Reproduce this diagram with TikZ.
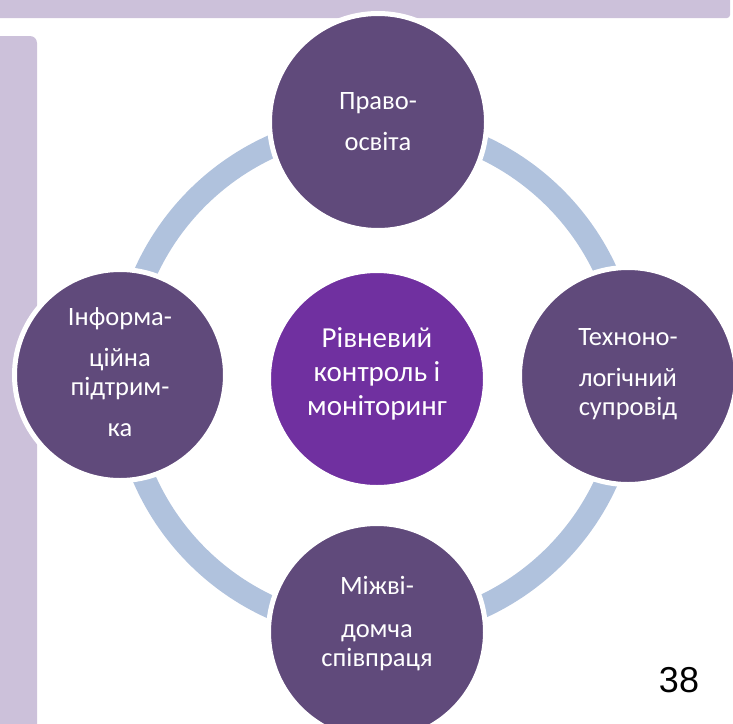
\documentclass[tikz,border=0pt]{standalone}
\usepackage{fontspec}
\setmainfont{Carlito}
\newfontfamily\numfont{Liberation Sans}
\definecolor{satc}{HTML}{604A7B}
\definecolor{midc}{HTML}{7030A0}
\definecolor{bandc}{HTML}{CCC1DA}
\definecolor{ringcol}{HTML}{B0C2DD}
\begin{document}
\begin{tikzpicture}[x=1pt,y=-1pt,
  sat/.style={circle, fill=satc, draw=white, line width=5pt, inner sep=0pt, minimum size=217pt},
  midcirc/.style={circle, fill=midc, draw=white, line width=5pt, inner sep=0pt, minimum size=217pt},
  lbl/.style={text=white, align=center, inner sep=0pt, font=\fontsize{26.5}{29}\selectfont},
  midlbl/.style={text=white, align=center, inner sep=0pt, font=\fontsize{29}{34}\selectfont},
  ring/.style={draw=ringcol, line width=23pt}]
\useasboundingbox (0,0) rectangle (733,723);
% decorative slide bands
\fill[bandc, rounded corners=3pt] (-10,-10) rectangle (730,18);
\fill[bandc, rounded corners=7pt] (-10,36) rectangle (37,740);
% ring
\coordinate (rc) at (376,377);
\draw[ring] (rc) circle (253pt);
% circles
\node[midcirc] (mid) at (377,379) {};
\node[sat] (top) at (378,122) {};
\node[sat, minimum size=211pt] (left) at (120,375) {};
\node[sat] (right) at (628,376) {};
\node[sat] (bot) at (377,632) {};
% labels
\node[midlbl] (midt) at (377,374) {Рівневий\\контроль і\\моніторинг};
\node[lbl] (topt) at (378,122) {Право-\\[12pt]освіта};
\node[lbl] (leftt) at (120,372) {Інформа-\\[12pt]ційна\\підтрим-\\[12pt]ка};
\node[lbl] (rightt) at (628,374) {Техноно-\\[12pt]логічний\\супровід};
\node[lbl] (bott) at (377,624) {Міжві-\\[14pt]домча\\співпраця};
% page number
\node[font=\numfont\fontsize{36}{40}\selectfont, inner sep=0pt] (pg) at (679,680) {38};
\end{tikzpicture}
\end{document}
